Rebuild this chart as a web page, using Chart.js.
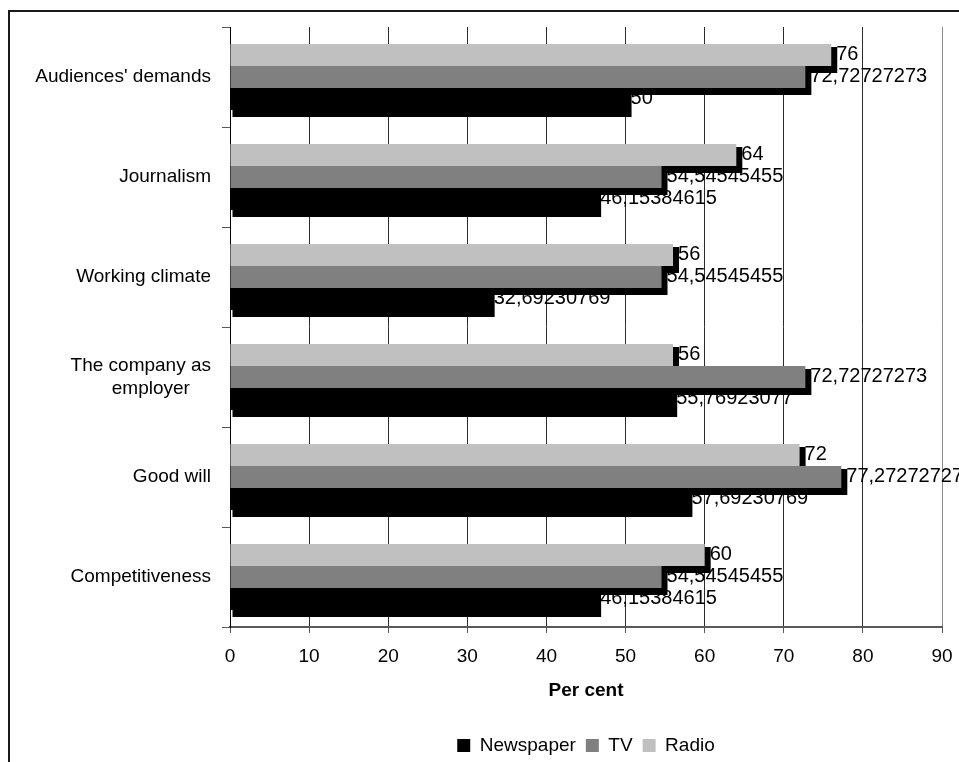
<!DOCTYPE html>
<html>
<head>
<meta charset="utf-8">
<title>Reasons for change by media type</title>
<script src="https://cdn.jsdelivr.net/npm/chart.js@4/dist/chart.umd.min.js"></script>
<style>
  html, body { margin: 0; padding: 0; background: #fff; overflow: hidden; }
  canvas { display: block; }
</style>
</head>
<body>
<canvas id="chart" width="959" height="762"></canvas>
<script>
// Categories, listed top to bottom as they appear on the axis
const categories = [
  "Audiences' demands",
  'Journalism',
  'Working climate',
  ['The company as', 'employer    '],
  'Good will',
  'Competitiveness'
];

// Share of respondents (per cent) for each medium
const newspaper = [50, 46.15384615, 32.69230769, 55.76923077, 57.69230769, 46.15384615];
const tv        = [72.72727273, 54.54545455, 54.54545455, 72.72727273, 77.27272727, 54.54545455];
const radio     = [76, 64, 56, 56, 72, 60];

const xTicks = [0, 10, 20, 30, 40, 50, 60, 70, 80, 90];

const FONT = "'Liberation Sans', Arial, Helvetica, sans-serif";

// Outer frame, data labels and the offset drop shadow drawn beneath the bars
const decorations = {
  id: 'decorations',
  beforeDraw(chart) {
    const ctx = chart.ctx;
    ctx.save();
    ctx.fillStyle = '#fff';
    ctx.fillRect(0, 0, chart.width, chart.height);
    ctx.strokeStyle = '#1a1a1a';
    ctx.lineWidth = 2;
    ctx.strokeRect(9, 11, 1200, 1200);
    ctx.restore();
  },
  beforeDatasetsDraw(chart) {
    const ctx = chart.ctx;
    ctx.save();
    // value labels, written with a decimal comma
    ctx.font = '20px ' + FONT;
    ctx.fillStyle = '#000';
    ctx.textAlign = 'left';
    ctx.textBaseline = 'middle';
    chart.data.datasets.forEach((ds, di) => {
      const meta = chart.getDatasetMeta(di);
      meta.data.forEach((bar, i) => {
        const txt = String(ds.data[i]).replace('.', ',');
        ctx.fillText(txt, bar.x + 5, bar.y - 1);
      });
    });
    // shadows: offset down-right and slightly spread
    ctx.fillStyle = '#000';
    chart.data.datasets.forEach((ds, di) => {
      const meta = chart.getDatasetMeta(di);
      meta.data.forEach(bar => {
        const p = bar.getProps(['x', 'y', 'base', 'height'], true);
        ctx.fillRect(p.base + 2, p.y - p.height / 2 + 3, (p.x - p.base) + 4, p.height + 4);
      });
    });
    ctx.restore();
  }
};

new Chart(document.getElementById('chart'), {
  type: 'bar',
  data: {
    labels: categories,
    datasets: [
      { label: 'Radio',     data: radio,     backgroundColor: '#c0c0c0', borderWidth: 0 },
      { label: 'TV',        data: tv,        backgroundColor: '#808080', borderWidth: 0 },
      { label: 'Newspaper', data: newspaper, backgroundColor: '#000000', borderWidth: 0 }
    ]
  },
  options: {
    indexAxis: 'y',
    responsive: false,
    animation: false,
    devicePixelRatio: 1,
    categoryPercentage: 0.66,
    barPercentage: 1.0,
    layout: { padding: { left: 0, right: 17, top: 27, bottom: -3 } },
    font: { family: FONT, size: 19 },
    scales: {
      x: {
        type: 'linear',
        min: 0,
        max: 90,
        afterBuildTicks(scale) { scale.ticks = xTicks.map(v => ({ value: v })); },
        afterFit(scale) {
          scale.height = 99;
          scale.paddingLeft = 0;
          scale.paddingRight = 0;
        },
        ticks: { color: '#000', font: { family: FONT, size: 19 }, padding: 12 },
        grid: {
          color: c => (c.tick && c.tick.value === 90 ? '#8c8c8c' : '#2b2b2b'),
          lineWidth: 1,
          tickColor: '#595959',
          tickLength: 6
        },
        border: { color: '#595959', width: 2 },
        title: {
          display: true,
          text: 'Per cent',
          color: '#000',
          font: { family: FONT, size: 19, weight: 'bold' },
          padding: { top: 0, bottom: 24 }
        }
      },
      y: {
        type: 'category',
        afterFit(scale) { scale.width = 230; },
        ticks: { color: '#000', font: { family: FONT, size: 19 }, padding: 11 },
        grid: {
          display: true,
          offset: true,
          drawOnChartArea: false,
          color: '#595959',
          tickLength: 8
        },
        border: { color: '#000', width: 1 }
      }
    },
    plugins: {
      legend: {
        position: 'bottom',
        fullSize: false,
        reverse: true,
        labels: {
          color: '#000',
          font: { family: FONT, size: 19 },
          boxWidth: 13,
          boxHeight: 13,
          padding: 10
        }
      },
      tooltip: { enabled: false }
    }
  },
  plugins: [decorations]
});
</script>
</body>
</html>
